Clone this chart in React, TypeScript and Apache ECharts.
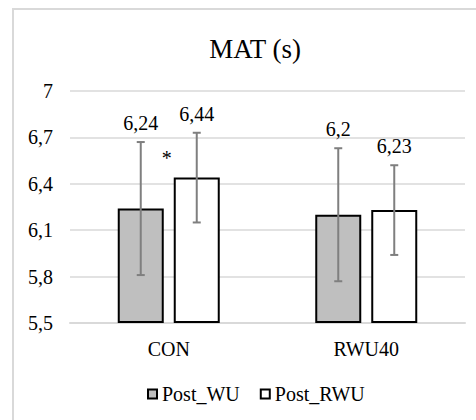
import React, { useEffect, useRef } from "react";
import * as echarts from "echarts";

const title = "MAT (s)";
const categories = ["CON", "RWU40"];
const seriesNames = ["Post_WU", "Post_RWU"];
const postWU = [6.24, 6.2];
const postRWU = [6.44, 6.23];
const postWUErr = [0.43, 0.43];
const postRWUErr = [0.29, 0.29];
const labelsWU = ["6,24", "6,2"];
const labelsRWU = ["6,44", "6,23"];
const yMin = 5.5;
const yMax = 7;
const yStep = 0.3;
const significance = [{ category: "CON", value: 6.57, text: "*" }];

const FONT = "Times New Roman";
const BAR_W = 46;
const BAR_GAP = 10;
const OFFSET = (BAR_W + BAR_GAP) / 2;

function fmt(v: number) {
  const r = Math.round((v + yMin) * 10) / 10;
  return String(r).replace(".", ",");
}

function errSeries(values: number[], errs: number[], side: number) {
  return {
    type: "custom",
    z: 5,
    silent: true,
    data: values.map((v, i) => [i, v - yMin, errs[i]]),
    renderItem: (params: any, api: any) => {
      const ci = api.value(0);
      const v = api.value(1);
      const e = api.value(2);
      const c = api.coord([ci, v]);
      const x = c[0] + side * OFFSET;
      const top = api.coord([ci, v + e])[1];
      const bot = api.coord([ci, v - e])[1];
      const st = { stroke: "#7f7f7f", lineWidth: 2 };
      return {
        type: "group",
        children: [
          { type: "line", shape: { x1: x, y1: top, x2: x, y2: bot }, style: st },
          { type: "line", shape: { x1: x - 4, y1: top, x2: x + 4, y2: top }, style: st },
          { type: "line", shape: { x1: x - 4, y1: bot, x2: x + 4, y2: bot }, style: st },
        ],
      };
    },
  };
}

export default function App() {
  const ref = useRef<HTMLDivElement>(null);
  useEffect(() => {
    if (!ref.current) return;
    const chart = echarts.init(ref.current, undefined, { renderer: "svg" });
    const labelStyle = { fontFamily: FONT, fontSize: 20, color: "#000" };
    chart.setOption({
      animation: false,
      title: {
        text: title,
        left: 250,
        top: 44,
        textAlign: "center",
        textVerticalAlign: "middle",
        textStyle: { fontFamily: FONT, fontSize: 27, fontWeight: "normal", color: "#000" },
      },
      legend: {
        data: seriesNames,
        left: 147,
        top: 384,
        icon: "rect",
        itemWidth: 9,
        itemHeight: 9,
        itemGap: 20,
        padding: 0,
        textStyle: { fontFamily: FONT, fontSize: 20, color: "#000" },
      },
      grid: { left: 70, right: 11, top: 91, bottom: 97 },
      xAxis: {
        type: "category",
        data: categories,
        axisTick: { show: false },
        axisLine: { lineStyle: { color: "#d9d9d9", width: 2 } },
        axisLabel: { fontFamily: FONT, fontSize: 20, color: "#000", margin: 16 },
      },
      yAxis: {
        type: "value",
        min: 0,
        max: yMax - yMin,
        interval: yStep,
        axisLine: { show: false },
        axisTick: { show: false },
        splitLine: { lineStyle: { color: "#d9d9d9", width: 1.5 } },
        axisLabel: {
          fontFamily: FONT,
          fontSize: 20,
          color: "#000",
          margin: 17,
          formatter: (v: number) => fmt(v),
        },
      },
      series: [
        {
          name: seriesNames[0],
          type: "bar",
          barWidth: BAR_W,
          barGap: `${(BAR_GAP / BAR_W) * 100}%`,
          data: postWU.map((v) => v - yMin),
          itemStyle: { color: "#bfbfbf", borderColor: "#000", borderWidth: 2 },
        },
        {
          name: seriesNames[1],
          type: "bar",
          barWidth: BAR_W,
          data: postRWU.map((v) => v - yMin),
          itemStyle: { color: "#fff", borderColor: "#000", borderWidth: 2 },
        },
        errSeries(postWU, postWUErr, -1),
        errSeries(postRWU, postRWUErr, 1),
      ],
    });

    const py = (v: number) =>
      chart.convertToPixel({ yAxisIndex: 0 }, v - yMin) as unknown as number;
    const labelData = (vals: number[], errs: number[], texts: string[]) =>
      vals.map((v, i) => ({
        value: v - yMin,
        label: {
          show: true,
          position: "top",
          distance: py(v) - py(v + errs[i]) + 9,
          formatter: texts[i],
          ...labelStyle,
        },
      }));

    const sigGraphics = significance.map((s) => {
      const p = chart.convertToPixel({ xAxisIndex: 0, yAxisIndex: 0 }, [
        categories.indexOf(s.category),
        s.value - yMin,
      ]) as unknown as number[];
      return {
        type: "text",
        x: p[0] - 2,
        y: p[1],
        silent: true,
        z: 10,
        style: {
          text: s.text,
          fontFamily: FONT,
          fontSize: 20,
          fill: "#000",
          align: "center",
          verticalAlign: "middle",
        },
      };
    });

    chart.setOption({
      graphic: sigGraphics,
      series: [
        { data: labelData(postWU, postWUErr, labelsWU) },
        { data: labelData(postRWU, postRWUErr, labelsRWU) },
      ],
    });
    return () => chart.dispose();
  }, []);
  return (
    <div style={{ position: "fixed", left: 0, top: 0, width: 476, height: 420, overflow: "hidden", background: "#fff" }}>
      <div
        style={{
          position: "absolute",
          left: 12,
          top: 8,
          width: 600,
          height: 600,
          borderTop: "2px solid #d9d9d9",
          borderLeft: "2px solid #d9d9d9",
        }}
      />
      <div ref={ref} style={{ position: "absolute", left: 0, top: 0, width: 476, height: 420 }} />
    </div>
  );
}
